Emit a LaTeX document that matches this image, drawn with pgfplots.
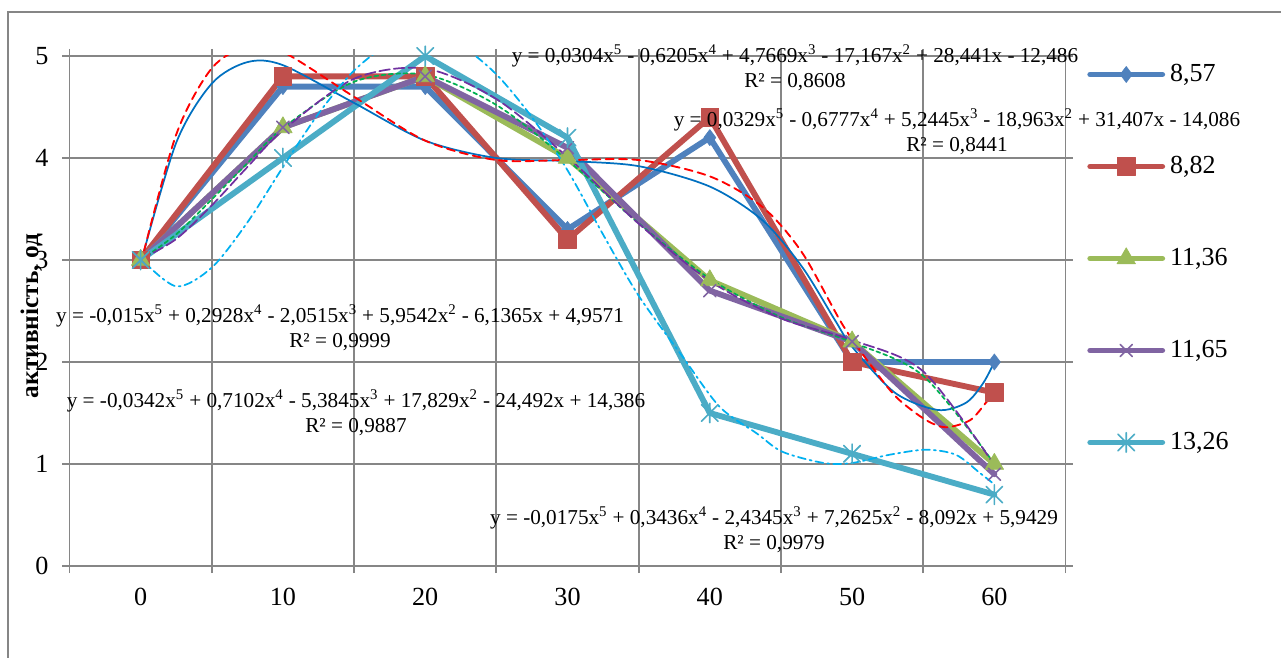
\documentclass[border=0pt]{standalone}
\usepackage{fontspec}
\setmainfont{Liberation Serif}
\usepackage{pgfplots}
\pgfplotsset{compat=1.18}
\definecolor{s1}{HTML}{4F81BD}
\definecolor{s2}{HTML}{C0504D}
\definecolor{s3}{HTML}{9BBB59}
\definecolor{s4}{HTML}{8064A2}
\definecolor{s5}{HTML}{4BACC6}
\definecolor{t1}{HTML}{0070C0}
\definecolor{t2}{HTML}{FF0000}
\definecolor{t3}{HTML}{00B050}
\definecolor{t4}{HTML}{7030A0}
\definecolor{t5}{HTML}{00B0F0}
\definecolor{gridc}{HTML}{868686}
\pgfdeclareplotmark{xstar}{%
 \pgfpathmoveto{\pgfqpoint{-0.85\pgfplotmarksize}{-0.85\pgfplotmarksize}}%
 \pgfpathlineto{\pgfqpoint{0.85\pgfplotmarksize}{0.85\pgfplotmarksize}}%
 \pgfpathmoveto{\pgfqpoint{-0.85\pgfplotmarksize}{0.85\pgfplotmarksize}}%
 \pgfpathlineto{\pgfqpoint{0.85\pgfplotmarksize}{-0.85\pgfplotmarksize}}%
 \pgfpathmoveto{\pgfqpoint{0pt}{-\pgfplotmarksize}}%
 \pgfpathlineto{\pgfqpoint{0pt}{\pgfplotmarksize}}%
 \pgfusepathqstroke}
\newcommand{\eqfont}{\fontsize{15.9pt}{18.75pt}\selectfont}
\newcommand{\p}[1]{\textsuperscript{#1}}
\begin{document}
\begin{tikzpicture}
\path[use as bounding box] (0,0) rectangle (960.75pt,492.75pt);
\begin{axis}[
  at={(52.125pt,68.25pt)}, anchor=south west,
  scale only axis, width=747pt, height=382.5pt,
  xmin=-0.5, xmax=6.5, ymin=0, ymax=5,
  xtick={-0.5,0.5,...,6.5}, x tick label as interval,
  xticklabels={0,10,20,30,40,50,60},
  ytick={0,1,2,3,4,5}, yticklabels={0,1,2,3,4,5},
  tick align=outside, major tick length=5.25pt,
  tick style={gridc, line width=1.3pt},
  xmajorgrids, ymajorgrids,
  grid style={gridc, line width=1.3pt},
  axis line style={gridc, line width=1.3pt},
  ticklabel style={font=\fontsize{19.6pt}{23pt}\selectfont, inner sep=0pt},
  xticklabel shift=11.5pt, yticklabel shift=10.4pt,
  legend style={at={(1.0216,0.603)}, anchor=west, draw=none, fill=none,
    inner sep=0pt, row sep=51pt, column sep=3.75pt,
    font=\fontsize{19.5pt}{22pt}\selectfont,
    nodes={inner sep=0pt, text height=14pt, text depth=4pt}},
  legend cell align=left,
  legend image code/.code={\draw[mark repeat=2,mark phase=2,#1] plot coordinates {(0pt,0pt) (27pt,0pt) (54pt,0pt)};},
  every axis plot/.append style={line join=round, line cap=round},
]
\addplot[s1, line width=4.4pt, mark=diamond*, mark size=6pt, mark options={fill=s1, line width=0.5pt}]
 coordinates {(0,3) (1,4.7) (2,4.7) (3,3.3) (4,4.2) (5,2.0) (6,2.0)};
\addlegendentry{8,57}
\addplot[s2, line width=4.4pt, mark=square*, mark size=6.6pt, mark options={fill=s2, line width=0.5pt}]
 coordinates {(0,3) (1,4.8) (2,4.8) (3,3.2) (4,4.4) (5,2.0) (6,1.7)};
\addlegendentry{8,82}
\addplot[s3, line width=4.4pt, mark=triangle*, mark size=8pt, mark options={fill=s3, line width=0.5pt}]
 coordinates {(0,3) (1,4.3) (2,4.8) (3,4.0) (4,2.8) (5,2.2) (6,1.0)};
\addlegendentry{11,36}
\addplot[s4, line width=4.4pt, mark=x, mark size=6.5pt, mark options={line width=1.2pt}]
 coordinates {(0,3) (1,4.3) (2,4.8) (3,4.1) (4,2.7) (5,2.2) (6,0.9)};
\addlegendentry{11,65}
\addplot[s5, line width=4.4pt, mark=xstar, mark size=7.3pt, mark options={line width=1.2pt}]
 coordinates {(0,3) (1,4.0) (2,5.0) (3,4.2) (4,1.5) (5,1.1) (6,0.7)};
\addlegendentry{13,26}
% trendlines
\addplot[t1, line width=1.3pt, smooth, forget plot] coordinates {
 (0,2.965) (0.25,4.15) (0.5,4.73) (0.75,4.94) (1,4.91) (1.5,4.54) (2,4.17) (2.5,4.0)
 (3,3.97) (3.5,3.92) (4,3.72) (4.37,3.39) (4.65,2.93) (4.88,2.41) (5,2.15) (5.3,1.7)
 (5.6,1.53) (5.8,1.6) (5.92,1.79) (6,2.0)};
\addplot[t2, line width=1.4pt, smooth, dash pattern=on 6pt off 4pt, forget plot] coordinates {
 (0,2.958) (0.25,4.23) (0.5,4.88) (0.75,5.09) (1,5.04) (1.5,4.60) (2,4.17) (2.5,3.98)
 (3,3.98) (3.5,3.98) (4,3.82) (4.37,3.52) (4.65,3.07) (4.94,2.35) (5.19,1.86) (5.33,1.63)
 (5.52,1.43) (5.66,1.36) (5.83,1.43) (5.94,1.6) (6,1.7)};
\addplot[t3, line width=1.3pt, smooth, dash pattern=on 3pt off 2.5pt, forget plot] coordinates {
 (0,3.0) (0.25,3.252) (0.5,3.594) (0.75,3.949) (1,4.294) (1.5,4.748) (2,4.817) (2.5,4.520)
 (3,3.979) (3.5,3.360) (4,2.817) (4.5,2.440) (5,2.194) (5.5,1.864) (6,1.001)};
\addplot[t4, line width=1.3pt, smooth, dash pattern=on 8pt off 3pt, forget plot] coordinates {
 (0,3.005) (0.25,3.206) (0.5,3.536) (0.75,3.911) (1,4.271) (1.5,4.777) (2,4.877) (2.5,4.578)
 (3,4.009) (3.5,3.356) (4,2.795) (4.5,2.428) (5,2.215) (5.5,1.908) (6,0.989)};
\addplot[t5, line width=1.3pt, smooth, dash pattern=on 6pt off 3pt on 1.5pt off 3pt, forget plot] coordinates {
 (0,3.015) (0.25,2.742) (0.5,2.926) (0.75,3.368) (1,3.911) (1.25,4.435) (1.5,4.857) (1.75,5.12)
 (2,5.205) (2.25,5.10) (2.5,4.82) (2.75,4.40) (3,3.88) (3.25,3.25) (3.5,2.65) (3.81,2.05)
 (4.07,1.56) (4.33,1.30) (4.51,1.12) (4.8,1.01) (5,1.01) (5.26,1.09) (5.52,1.14) (5.73,1.09)
 (5.9,0.91) (6,0.8)};
\end{axis}
\begin{scope}[x=0.75pt,y=0.75pt]
\draw[gridc, line width=2pt] (8,-10) -- (8,645) -- (1300,645);
\node[rotate=90, anchor=base, font=\bfseries\fontsize{19pt}{22pt}\selectfont] at (38,341) {активність, од};
\node[align=center, font=\eqfont] at (795,589.5) {y = 0,0304x\p{5} - 0,6205x\p{4} + 4,7669x\p{3} - 17,167x\p{2} + 28,441x - 12,486\\R² = 0,8608};
\node[align=center, font=\eqfont] at (957,525.5) {y = 0,0329x\p{5} - 0,6777x\p{4} + 5,2445x\p{3} - 18,963x\p{2} + 31,407x - 14,086\\R² = 0,8441};
\node[align=center, font=\eqfont] at (340,329.5) {y = -0,015x\p{5} + 0,2928x\p{4} - 2,0515x\p{3} + 5,9542x\p{2} - 6,1365x + 4,9571\\R² = 0,9999};
\node[align=center, font=\eqfont] at (356,244.5) {y = -0,0342x\p{5} + 0,7102x\p{4} - 5,3845x\p{3} + 17,829x\p{2} - 24,492x + 14,386\\R² = 0,9887};
\node[align=center, font=\eqfont] at (774,127.5) {y = -0,0175x\p{5} + 0,3436x\p{4} - 2,4345x\p{3} + 7,2625x\p{2} - 8,092x + 5,9429\\R² = 0,9979};
\end{scope}
\end{tikzpicture}
\end{document}
